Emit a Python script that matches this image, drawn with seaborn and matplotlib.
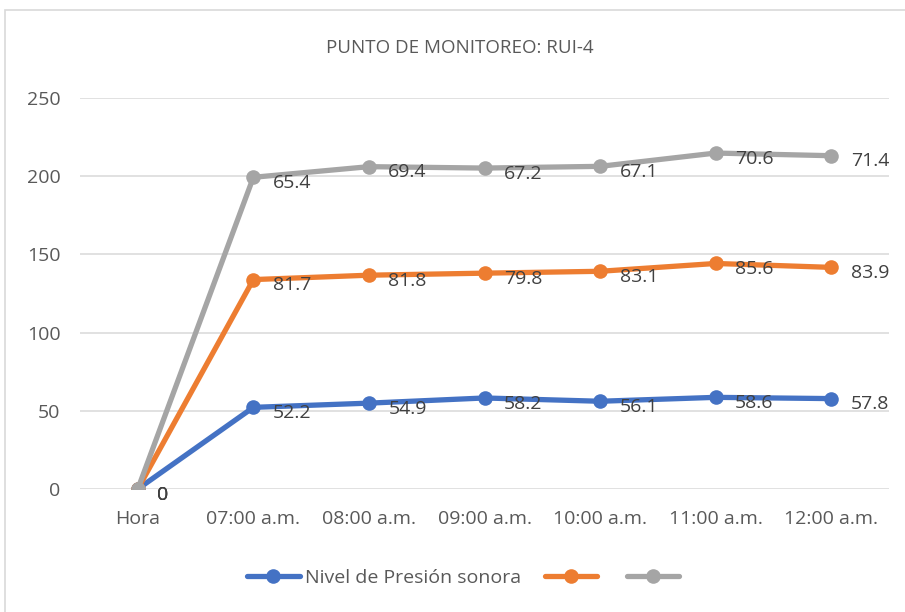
import numpy as np
import pandas as pd
import matplotlib
matplotlib.use("Agg")
import matplotlib.pyplot as plt
from matplotlib.lines import Line2D
from matplotlib.patches import Rectangle
import seaborn as sns

# data (stacked line series)
horas = ["Hora", "07:00 a.m.", "08:00 a.m.", "09:00 a.m.", "10:00 a.m.", "11:00 a.m.", "12:00 a.m."]
serie_azul = [0, 52.2, 54.9, 58.2, 56.1, 58.6, 57.8]
serie_naranja = [0, 81.7, 81.8, 79.8, 83.1, 85.6, 83.9]
serie_gris = [0, 65.4, 69.4, 67.2, 67.1, 70.6, 71.4]
nombres = ["Nivel de Presión sonora", "Serie2", "Serie3"]
colores = ["#4472c4", "#ed7d31", "#a5a5a5"]

sns.set_theme(style="white")
plt.rcParams["font.family"] = ["Open Sans", "DejaVu Sans"]

# stacked cumulative positions
valores = np.array([serie_azul, serie_naranja, serie_gris])
acumulado = valores.cumsum(axis=0)

rows = []
for s, nombre in enumerate(nombres):
    for i, h in enumerate(horas):
        rows.append({"x": i, "y": acumulado[s, i], "serie": nombre, "valor": valores[s, i]})
df = pd.DataFrame(rows)

fig = plt.figure(figsize=(9.05, 6.12), dpi=100)
fig.patches.append(Rectangle((5 / 905, -0.01), 1.0, (612 - 10) / 612 + 0.01,
                             transform=fig.transFigure, fill=False,
                             edgecolor="#d9d9d9", linewidth=1.2))
ax = fig.add_axes([80 / 905, (612 - 489) / 612, (889 - 80) / 905, (489 - 98) / 612])

for nombre, color in zip(nombres, colores):
    sub = df[df["serie"] == nombre]
    sns.lineplot(data=sub, x="x", y="y", ax=ax, color=color, linewidth=3.8,
                 marker="o", markersize=10.5, markeredgewidth=0, legend=False, zorder=3)

# data labels (own values, placed at stacked position)
for s in range(len(nombres)):
    for i in range(len(horas)):
        txt = f"{valores[s, i]:g}" if valores[s, i] != 0 else "0"
        ax.annotate(txt, (i, acumulado[s, i]), xytext=(14, -4), textcoords="offset points",
                    ha="left", va="center", fontsize=14, color="#404040", zorder=4)

ax.set_xlim(-0.5, 6.5)
ax.set_ylim(0, 250)
ax.set_yticks([0, 50, 100, 150, 200, 250])
ax.set_xticks(range(len(horas)))
ax.set_xticklabels(horas)
ax.tick_params(axis="y", labelsize=14, colors="#595959", length=0, pad=14)
ax.tick_params(axis="x", labelsize=14, colors="#595959", length=0, pad=15)
ax.grid(axis="y", color="#d9d9d9", linewidth=1.1)
ax.set_xlabel("")
ax.set_ylabel("")
for sp in ax.spines.values():
    sp.set_visible(False)

fig.text(460 / 905, 1 - 48 / 612, "PUNTO DE MONITOREO: RUI-4", ha="center", va="center",
         fontsize=13.5, color="#595959")

handles = [Line2D([0], [0], color=c, linewidth=3.8, marker="o", markersize=10.5, markeredgewidth=0)
           for c in colores]
fig.legend(handles, [nombres[0], "", ""], loc="center", bbox_to_anchor=(466 / 905, 1 - 578 / 612),
           ncol=3, frameon=False, fontsize=14, handlelength=2.7, handletextpad=0.3,
           columnspacing=1.2, labelcolor="#595959")

fig.savefig("out.png", dpi=100)
